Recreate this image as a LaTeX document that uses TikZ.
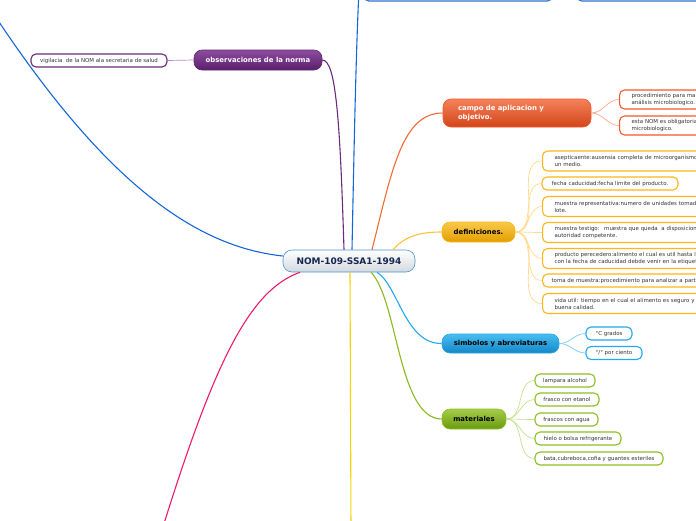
\documentclass[tikz,border=0pt]{standalone}
\usepackage{fontspec}
\setmainfont{DejaVu Sans}
\definecolor{purT}{HTML}{8E4C9E}
\definecolor{purB}{HTML}{5A1E6C}
\definecolor{purD}{HTML}{5E2A70}
\definecolor{purC}{HTML}{6A2A7E}
\definecolor{purL}{HTML}{B88AC4}
\definecolor{oraT}{HTML}{F4825A}
\definecolor{oraB}{HTML}{D4441A}
\definecolor{oraC}{HTML}{F2592A}
\definecolor{oraL}{HTML}{F8A88A}
\definecolor{oraLine}{HTML}{F26A35}
\definecolor{yelT}{HTML}{FAC94A}
\definecolor{yelB}{HTML}{E29E00}
\definecolor{yelC}{HTML}{FFB619}
\definecolor{yelL}{HTML}{FFD98A}
\definecolor{yelLine}{HTML}{FFC23A}
\definecolor{bluT}{HTML}{48BEF2}
\definecolor{bluB}{HTML}{1486C6}
\definecolor{bluC}{HTML}{22A8EC}
\definecolor{bluL}{HTML}{7CCBF2}
\definecolor{greT}{HTML}{A6CC48}
\definecolor{greB}{HTML}{699A0E}
\definecolor{greC}{HTML}{8CC024}
\definecolor{greL}{HTML}{C4E08A}
\definecolor{greLine}{HTML}{8CB81E}
\definecolor{cenB}{HTML}{D3D9DF}
\definecolor{cenD}{HTML}{4A92CC}
\definecolor{navy}{HTML}{16264E}
\definecolor{deepblue}{HTML}{1466D8}
\definecolor{pink}{HTML}{F0186C}
\definecolor{gold}{HTML}{F2D40A}
\definecolor{txt}{HTML}{333333}
\definecolor{topblue}{HTML}{2E72D2}
\begin{document}
\begin{tikzpicture}[x=1pt,y=-1pt,
  mainbox/.style={rounded corners=8pt, font=\bfseries\fontsize{6.9}{9}\selectfont, inner sep=0pt, line width=0.6pt},
  childbox/.style={draw, fill=white, rounded corners=5pt, line width=1.1pt, font=\fontsize{5.45}{7}\selectfont, text=txt, inner sep=0pt, minimum height=13pt},
  longbox/.style={childbox, anchor=west, align=left, inner xsep=12pt, text width=190pt},
  conn/.style={line width=1.1pt},
  sub/.style={line width=0.7pt}
]
\useasboundingbox (0,0) rectangle (696,520);

% central
\node[mainbox, font=\bfseries\fontsize{9}{11}\selectfont, top color=white, bottom color=cenB, draw=cenD, text=navy, minimum width=132pt, minimum height=22pt, rounded corners=9pt] (c) at (349,261) {NOM-109-SSA1-1994};

% top (off-picture) boxes
\node[draw=topblue, fill=white, line width=1.2pt, rounded corners=5pt, minimum width=189pt, minimum height=30pt, anchor=south west, inner sep=0pt] (top1) at (363,1.5) {};
\node[draw=topblue, fill=white, line width=1.2pt, rounded corners=5pt, minimum width=140pt, minimum height=30pt, anchor=south west, inner sep=0pt] (top2) at (576,1.5) {};

% free ends
\coordinate (offTL) at (-25,-15);
\coordinate (offB) at (162,530);
\coordinate (offY) at (351,530);
\coordinate (offTop) at (359,-10);

% main branches
\node[mainbox, top color=purT, bottom color=purB, draw=purD, text=white, minimum width=128pt, minimum height=20pt] (obs) at (258,60) {observaciones de la norma};
\node[mainbox, top color=oraT, bottom color=oraB, draw=oraC, text=white, text width=118pt, inner xsep=15pt, minimum height=28pt, align=left, font=\bfseries\fontsize{6.9}{9}\selectfont] (campo) at (517,113) {campo de aplicacion y\\objetivo.};
\node[mainbox, top color=yelT, bottom color=yelB, draw=yelC, text=black, minimum width=73pt, minimum height=20pt] (def) at (478.5,232) {definiciones.};
\node[mainbox, top color=bluT, bottom color=bluB, draw=bluC, text=black, minimum width=117pt, minimum height=19pt] (sim) at (500.5,343.5) {simbolos y abreviaturas};
\node[mainbox, top color=greT, bottom color=greB, draw=greC, text=black, minimum width=64pt, minimum height=20pt] (mat) at (474,419) {materiales};

% children
\node[childbox, draw=purC, minimum width=136pt] (vig) at (99,60.5) {vigilacia~ de la NOM ala secretaria de salud};

\node[longbox, draw=oraC, minimum height=19pt] (ca1) at (619,99.5) {procedimiento para manejo y transporte\\análisis microbiologico.};
\node[longbox, draw=oraC, minimum height=19pt] (ca2) at (619,125.5) {esta NOM es obligatoria para el analisis\\microbiologico.};

\node[longbox, draw=yelC, minimum height=20pt] (d1) at (542,161) {asepticaente:ausensia completa de microorganismos\\un medio.};
\node[childbox, draw=yelC, minimum width=136pt] (d2) at (610,183.5) {fecha caducidad:fecha limite del producto.};
\node[longbox, draw=yelC, minimum height=20pt] (d3) at (542,206.5) {muestra representativa:numero de unidades tomadas\\lote.};
\node[longbox, draw=yelC, minimum height=20pt] (d4) at (542,232.5) {muestra testigo:~ muestra que queda~ a disposicion de la\\autoridad competente.};
\node[longbox, draw=yelC, minimum height=20pt] (d5) at (542,258.5) {producto perecedero:alimento el cual es util hasta la\\con la fecha de caducidad debde venir en la etiqueta};
\node[longbox, draw=yelC, inner xsep=9pt] (d6) at (542,280.5) {toma de muestra:procedimiento para analizar a partir};
\node[longbox, draw=yelC, minimum height=20pt] (d7) at (542,303.5) {vida util: tiempo en el cual el alimento es seguro y de\\buena calidad.};

\node[childbox, draw=bluC, minimum width=46pt] (s1) at (609,333.5) {°C grados};
\node[childbox, draw=bluC, minimum width=56pt] (s2) at (614,353) {°/° por ciento};

\node[childbox, draw=greC, minimum width=60pt] (m1) at (565,380.5) {lampara alcohol};
\node[childbox, draw=greC, minimum width=64pt] (m2) at (567,399.5) {frasco con etanol};
\node[childbox, draw=greC, minimum width=63pt] (m3) at (566.5,419.5) {frascos con agua};
\node[childbox, draw=greC, minimum width=86pt] (m4) at (578,438.5) {hielo o bolsa refrigerante};
\node[childbox, draw=greC, minimum width=128pt] (m5) at (599,458.5) {bata,cubreboca,cofia y guantes esteriles};

% main connectors
\draw[conn, deepblue] ([yshift=5pt]c.west) .. controls (190,246) and (95,175) .. (offTL);
\draw[conn, deepblue] ([xshift=3pt]c.north) .. controls (354,150) and (356,50) .. (offTop);
\draw[conn, purC] ([xshift=-5pt]c.north) .. controls (340,120) and (336,60) .. (obs.east);
\draw[conn, oraLine] ([xshift=23pt]c.north) .. controls (392,170) and (402,113) .. (campo.west);
\draw[conn, yelLine] ([xshift=44pt]c.north) .. controls (405,236) and (420,232) .. (def.west);
\draw[conn, pink] ([xshift=-49pt]c.south) .. controls (250,290) and (215,360) .. (offB);
\draw[conn, gold] ([xshift=1pt]c.south) -- (offY);
\draw[conn, greLine] ([xshift=22pt]c.south) .. controls (398,300) and (398,419) .. (mat.west);
\draw[conn, bluC] ([xshift=28pt]c.south) .. controls (398,285) and (405,344) .. (sim.west);

% sub connectors
\draw[sub, purL] (obs.west) -- (vig.east);
\foreach \n in {ca1,ca2} \draw[sub, oraL] (campo.east) to[out=0,in=180] (\n.west);
\foreach \n in {d1,d2,d3,d4,d5,d6,d7} \draw[sub, yelL] (def.east) to[out=0,in=180] (\n.west);
\foreach \n in {s1,s2} \draw[sub, bluL] (sim.east) to[out=0,in=180] (\n.west);
\foreach \n in {m1,m2,m3,m4,m5} \draw[sub, greL] (mat.east) to[out=0,in=180] (\n.west);
\end{tikzpicture}
\end{document}
